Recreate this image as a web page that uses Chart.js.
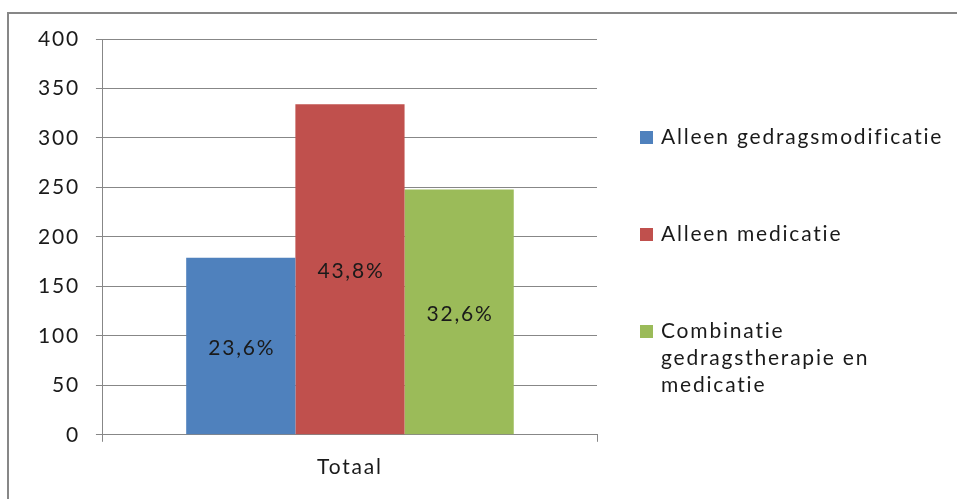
<!DOCTYPE html>
<html>
<head>
<meta charset="utf-8">
<script src="https://cdn.jsdelivr.net/npm/chart.js@4"></script>
<style>
  html, body { margin: 0; padding: 0; background: #fff; overflow: hidden; }
  #wrap { position: relative; width: 957px; height: 499px; }
  #frame { position: absolute; left: 7px; top: 12px; width: 970px; height: 510px; border: 2px solid #878787; box-sizing: border-box; }
  canvas { position: absolute; left: 0; top: 0; }
</style>
</head>
<body>
<div id="wrap">
  <div id="frame"></div>
  <canvas id="chart" width="957" height="499"></canvas>
</div>
<script>
// data
const categories = ['Totaal'];
const seriesNames = [
  'Alleen gedragsmodificatie',
  'Alleen medicatie',
  'Combinatie gedragstherapie en medicatie'
];
const legendLines = [
  ['Alleen gedragsmodificatie'],
  ['Alleen medicatie'],
  ['Combinatie', 'gedragstherapie en', 'medicatie']
];
const values = [179, 334, 248];
const percentLabels = ['23,6%', '43,8%', '32,6%'];
const colors = ['#4F81BD', '#C0504D', '#9BBB59'];
const yTicks = [0, 50, 100, 150, 200, 250, 300, 350, 400];

const FONT = 'Lato, "Open Sans", sans-serif';
const SIZE = 21;
const TEXT = '#1a1a1a';
const SPACING = '1.8px';

// the reference text is set wide, so space the letters out a bit
const spacing = {
  id: 'spacing',
  beforeUpdate(chart) { chart.ctx.letterSpacing = SPACING; },
  beforeDraw(chart) { chart.ctx.letterSpacing = SPACING; }
};

// labels in the middle of each bar
const barLabels = {
  id: 'barLabels',
  afterDatasetsDraw(chart) {
    const ctx = chart.ctx;
    ctx.save();
    ctx.font = SIZE + 'px ' + FONT;
    ctx.fillStyle = TEXT;
    ctx.textAlign = 'center';
    ctx.textBaseline = 'middle';
    chart.data.datasets.forEach((ds, i) => {
      const bar = chart.getDatasetMeta(i).data[0];
      const mid = (bar.y + bar.base) / 2;
      ctx.fillText(percentLabels[i], bar.x + 1, mid + 2);
    });
    ctx.restore();
  }
};

// legend on the right, with wrapped text for the last item
const sideLegend = {
  id: 'sideLegend',
  afterDraw(chart) {
    const ctx = chart.ctx;
    const rows = [137, 234, 331];
    ctx.save();
    ctx.font = SIZE + 'px ' + FONT;
    ctx.textBaseline = 'middle';
    ctx.textAlign = 'left';
    legendLines.forEach((lines, i) => {
      ctx.fillStyle = colors[i];
      ctx.fillRect(640, rows[i] - 6, 13, 13);
      ctx.fillStyle = TEXT;
      lines.forEach((t, j) => ctx.fillText(t, 661, rows[i] + j * 27));
    });
    ctx.restore();
  }
};

new Chart(document.getElementById('chart'), {
  type: 'bar',
  data: {
    labels: categories,
    datasets: seriesNames.map((name, i) => ({
      label: name,
      data: [values[i]],
      backgroundColor: colors[i],
      borderWidth: 0,
      barPercentage: 1,
      categoryPercentage: 0.663
    }))
  },
  options: {
    responsive: false,
    animation: false,
    layout: { padding: { top: 39, right: 360, bottom: 6, left: 22 } },
    plugins: {
      legend: { display: false },
      tooltip: { enabled: false }
    },
    scales: {
      x: {
        grid: { drawOnChartArea: false, drawTicks: true, tickLength: 7, color: '#878787' },
        border: { display: true, color: '#878787', width: 1 },
        ticks: { color: TEXT, font: { family: FONT, size: SIZE }, padding: 13 }
      },
      y: {
        min: 0,
        max: 400,
        afterBuildTicks(axis) { axis.ticks = yTicks.map(v => ({ value: v })); },
        grid: { color: '#878787', lineWidth: 1, tickLength: 7 },
        border: { display: true, color: '#878787', width: 1 },
        ticks: { color: TEXT, font: { family: FONT, size: SIZE }, padding: 16 }
      }
    }
  },
  plugins: [spacing, barLabels, sideLegend]
});
</script>
</body>
</html>
